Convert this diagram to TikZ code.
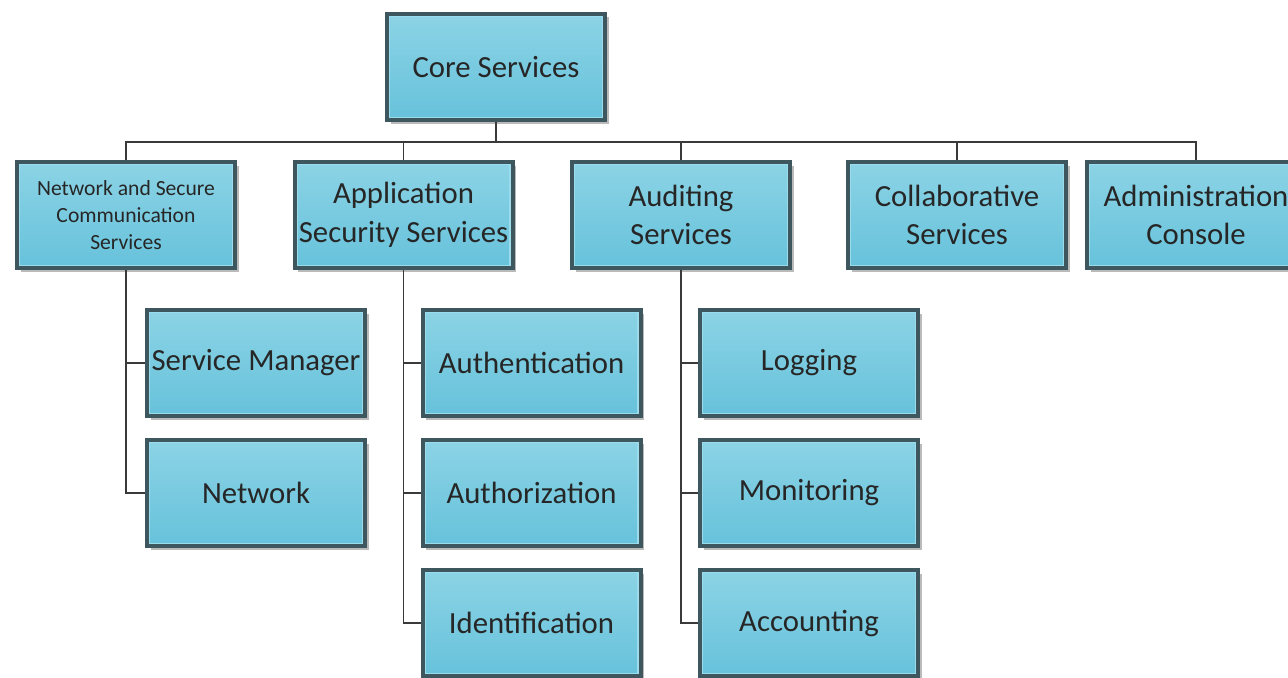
\documentclass[tikz,border=0pt]{standalone}
\usepackage{fontspec}
\setmainfont{Carlito}
\usetikzlibrary{positioning, shadows}

\definecolor{boxtop}{HTML}{8CD3E5}
\definecolor{boxbot}{HTML}{66C2DB}
\definecolor{boxline}{HTML}{3E575E}
\definecolor{boxinner}{HTML}{9ADCEB}
\definecolor{wire}{HTML}{3A3A3A}

\tikzset{
    svc/.style={
        rectangle,
        draw=boxline,
        line width=0.08cm,
        top color=boxtop,
        bottom color=boxbot,
        minimum width=4.36cm,
        minimum height=2.12cm,
        inner sep=1pt,
        align=center,
        text=black!85,
        font=\fontsize{17.5}{22}\selectfont,
        drop shadow={shadow xshift=0.07cm, shadow yshift=-0.07cm, fill=black!45, opacity=0.6},
        path picture={
            \draw[boxinner, line width=0.6pt]
                ([shift={(0.05,-0.05)}]path picture bounding box.north west) rectangle
                ([shift={(-0.05,0.05)}]path picture bounding box.south east);
        },
    },
    small/.style={font=\fontsize{12.3}{15.5}\selectfont},
    link/.style={draw=wire, line width=0.8pt},
}

\begin{document}
\begin{tikzpicture}[
    on grid,
    node distance=5.55cm,
]

    \useasboundingbox (0,0) rectangle (25.76,-13.54);

    \node[svc]                                          (core) at (9.92,-1.34) {Core Services};

    \node[svc, small, below left=2.96cm and 7.4cm of core] (net)  {Network and Secure\\Communication\\Services};
    \node[svc, right=of net]                            (app)  {Application\\Security Services};
    \node[svc, right=of app]                            (aud)  {Auditing\\Services};
    \node[svc, right=5.52cm of aud]                     (coll) {Collaborative\\Services};
    \node[svc, right=4.78cm of coll]                    (adm)  {Administration\\Console};

    \node[svc, below right=2.96cm and 2.6cm of net]     (mgr)  {Service Manager};
    \node[svc, below=2.6cm of mgr]                      (nw)   {Network};

    \node[svc, below right=2.96cm and 2.56cm of app]    (authn) {Authentication};
    \node[svc, below=2.6cm of authn]                    (authz) {Authorization};
    \node[svc, below=2.6cm of authz]                    (ident) {Identification};

    \node[svc, below right=2.96cm and 2.56cm of aud]    (log)  {Logging};
    \node[svc, below=2.6cm of log]                      (mon)  {Monitoring};
    \node[svc, below=2.6cm of mon]                      (acct) {Accounting};

    \begin{scope}[on background layer/.try]
    \draw[link] (core.south) -- ++(0,-0.4) coordinate (bus);
    \foreach \n in {net, app, aud, coll, adm}
        \draw[link] (bus) -| (\n.north);

    \foreach \n in {mgr, nw}
        \draw[link] (net.south) |- (\n.west);
    \foreach \n in {authn, authz, ident}
        \draw[link] (app.south) |- (\n.west);
    \foreach \n in {log, mon, acct}
        \draw[link] (aud.south) |- (\n.west);
    \end{scope}
\end{tikzpicture}
\end{document}
